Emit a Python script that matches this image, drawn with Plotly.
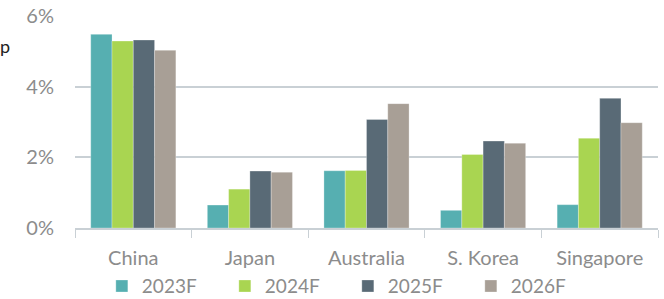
import plotly.graph_objects as go

categories = ["China", "Japan", "Australia", "S. Korea", "Singapore"]
series_names = ["2023F", "2024F", "2025F", "2026F"]
v2023 = [5.48, 0.65, 1.62, 0.50, 0.66]
v2024 = [5.29, 1.10, 1.63, 2.08, 2.54]
v2025 = [5.32, 1.61, 3.07, 2.46, 3.67]
v2026 = [5.03, 1.58, 3.52, 2.40, 2.98]
colors = ["#56AFB1", "#A9D551", "#596A76", "#A89F96"]
ytick_vals = [0, 2, 4, 6]
ytick_text = ["0%", "2%", "4%", "6%"]

FONT = "Lato, 'Open Sans', sans-serif"
GRAY = "#8c8c8c"
GRID = "#c9d0d5"

fig = go.Figure()
for name, vals, col in zip(series_names, [v2023, v2024, v2025, v2026], colors):
    fig.add_trace(go.Bar(
        x=categories, y=vals, name=name,
        marker=dict(color=col, line=dict(color="rgba(255,255,255,0.35)", width=0.8)),
    ))

fig.update_layout(
    width=664, height=299,
    margin=dict(l=75, r=6, t=16, b=71, autoexpand=False),
    paper_bgcolor="white", plot_bgcolor="white",
    barmode="group", bargap=0.27, bargroupgap=0,
    font=dict(family=FONT, size=19, color=GRAY),
    showlegend=True,
    legend=dict(
        orientation="h", x=0.468, xanchor="center", xref="paper",
        y=0.043, yanchor="middle", yref="container",
        bgcolor="rgba(0,0,0,0)",
        font=dict(family=FONT, size=19, color=GRAY),
        entrywidth=78, entrywidthmode="pixels",
        itemwidth=30, tracegroupgap=0,
    ),
    xaxis=dict(
        showline=True, linecolor=GRID, linewidth=1.5,
        ticks="outside", tickson="boundaries", ticklen=8, tickcolor=GRID,
        tickfont=dict(family=FONT, size=20, color=GRAY),
        ticklabelstandoff=11,
        showgrid=False,
    ),
    yaxis=dict(
        range=[0, 6], tickvals=ytick_vals, ticktext=ytick_text,
        showgrid=True, gridcolor=GRID, gridwidth=1.5,
        zeroline=False, showline=False,
        tickfont=dict(family=FONT, size=20, color=GRAY),
        ticklabelstandoff=20,
    ),
)

fig.add_annotation(
    text="p", xref="paper", yref="paper", x=-0.132, y=0.86,
    xanchor="left", yanchor="middle", showarrow=False,
    font=dict(family=FONT, size=18, color="#222222"),
)

fig.write_html("out.html", config={"displayModeBar": False},
               post_script="document.body.style.margin='0';")
